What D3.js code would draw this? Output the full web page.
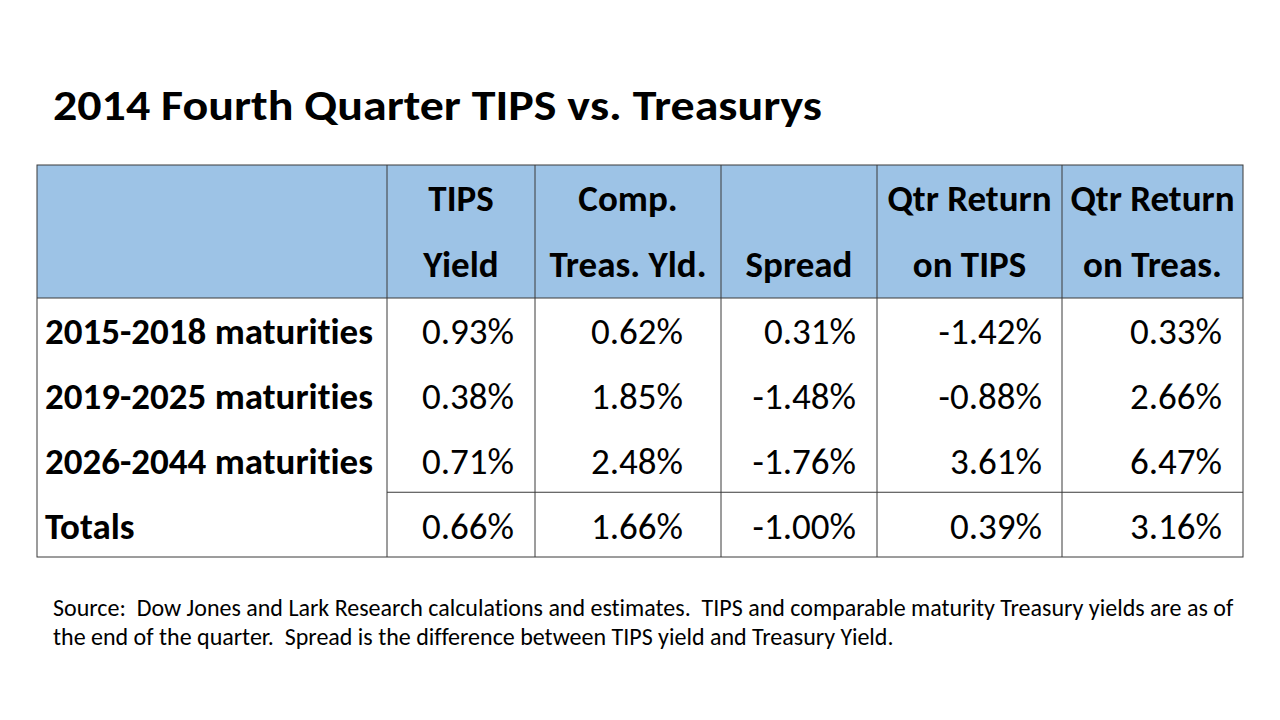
<!DOCTYPE html>
<html>
<head>
<meta charset="utf-8">
<script src="https://cdn.jsdelivr.net/npm/d3@7"></script>
<style>
  body { margin: 0; background: #fff; }
  text { font-family: Carlito, Calibri, "Open Sans", sans-serif; fill: #000; white-space: pre; font-variant-ligatures: none; }
</style>
</head>
<body>
<div id="chart"></div>
<script>
// data

const title = "2014 Fourth Quarter TIPS vs. Treasurys"
const headerTop = ["", "TIPS", "Comp.", "", "Qtr Return", "Qtr Return"]
const headerBottom = ["", "Yield", "Treas. Yld.", "Spread", "on TIPS", "on Treas."]
const rowLabels = ["2015-2018 maturities", "2019-2025 maturities", "2026-2044 maturities", "Totals"]
const tipsYield = [0.93, 0.38, 0.71, 0.66]
const compTreasYield = [0.62, 1.85, 2.48, 1.66]
const spread = [0.31, -1.48, -1.76, -1.00]
const qtrReturnTips = [-1.42, -0.88, 3.61, 0.39]
const qtrReturnTreas = [0.33, 2.66, 6.47, 3.16]
const footnote = [
  "Source:  Dow Jones and Lark Research calculations and estimates.  TIPS and comparable maturity Treasury yields are as of",
  "the end of the quarter.  Spread is the difference between TIPS yield and Treasury Yield."
]

// layout

const width = 1280
const height = 720
const colEdges = [37, 387, 535, 721, 877, 1062, 1243]
const rightPad = [21, 38, 21, 20, 21]
const tableTop = 165
const headerBottomY = 298
const tableBottom = 557

const svg = d3.select("#chart")
  .append("svg")
  .attr("width", width)
  .attr("height", height)

const series = [tipsYield, compTreasYield, spread, qtrReturnTips, qtrReturnTreas]
const columns = d3.range(colEdges.length - 1)

const yRow = d3.scaleBand()
  .domain(rowLabels)
  .range([headerBottomY, tableBottom])

const fmt = d => d.toFixed(2) + "%"

// title
svg.append("text")
  .attr("x", 53)
  .attr("y", 120)
  .attr("font-size", 42)
  .attr("font-weight", "bold")
  .attr("textLength", 769)
  .attr("lengthAdjust", "spacingAndGlyphs")
  .text(title)

// header background
svg.append("rect")
  .attr("x", colEdges[0])
  .attr("y", tableTop)
  .attr("width", colEdges[6] - colEdges[0])
  .attr("height", headerBottomY - tableTop)
  .attr("fill", "#9DC3E6")

// header text
const headerG = svg.append("g")
headerG.selectAll(".h1")
  .data(columns)
  .join("text")
  .attr("class", "h1")
  .attr("x", i => (colEdges[i] + colEdges[i + 1]) / 2)
  .attr("y", 211)
  .attr("text-anchor", "middle")
  .attr("font-size", 37)
  .attr("font-weight", "bold")
  .text(i => headerTop[i])

headerG.selectAll(".h2")
  .data(columns)
  .join("text")
  .attr("class", "h2")
  .attr("x", i => (colEdges[i] + colEdges[i + 1]) / 2)
  .attr("y", 277)
  .attr("text-anchor", "middle")
  .attr("font-size", 37)
  .attr("font-weight", "bold")
  .text(i => headerBottom[i])

// row labels
svg.selectAll(".rowLabel")
  .data(rowLabels)
  .join("text")
  .attr("class", "rowLabel")
  .attr("x", 45)
  .attr("y", d => yRow(d) + yRow.bandwidth() / 2 + 14)
  .attr("font-size", 37)
  .attr("font-weight", "bold")
  .text(d => d)

// values
series.forEach((vals, c) => {
  svg.selectAll(".val" + c)
    .data(vals)
    .join("text")
    .attr("class", "val" + c)
    .attr("x", colEdges[c + 2] - rightPad[c])
    .attr("y", (d, i) => yRow(rowLabels[i]) + yRow.bandwidth() / 2 + 14)
    .attr("text-anchor", "end")
    .attr("font-size", 37)
    .text(fmt)
})

// grid lines
const stroke = "#3a3a3a"
svg.append("rect")
  .attr("x", colEdges[0])
  .attr("y", tableTop)
  .attr("width", colEdges[6] - colEdges[0])
  .attr("height", tableBottom - tableTop)
  .attr("fill", "none")
  .attr("stroke", stroke)
  .attr("stroke-width", 1)

svg.selectAll(".vline")
  .data(colEdges.slice(1, -1))
  .join("line")
  .attr("class", "vline")
  .attr("x1", d => d).attr("x2", d => d)
  .attr("y1", tableTop).attr("y2", tableBottom)
  .attr("stroke", stroke)

svg.append("line")
  .attr("x1", colEdges[0]).attr("x2", colEdges[6])
  .attr("y1", headerBottomY).attr("y2", headerBottomY)
  .attr("stroke", stroke)

// line above totals (not across label column)
svg.append("line")
  .attr("x1", colEdges[1]).attr("x2", colEdges[6])
  .attr("y1", yRow("Totals")).attr("y2", yRow("Totals"))
  .attr("stroke", stroke)

// footnote
svg.selectAll(".foot")
  .data(footnote)
  .join("text")
  .attr("class", "foot")
  .attr("x", 53)
  .attr("y", (d, i) => 616 + i * 29)
  .attr("font-size", 24)
  .text(d => d)
</script>
</body>
</html>
